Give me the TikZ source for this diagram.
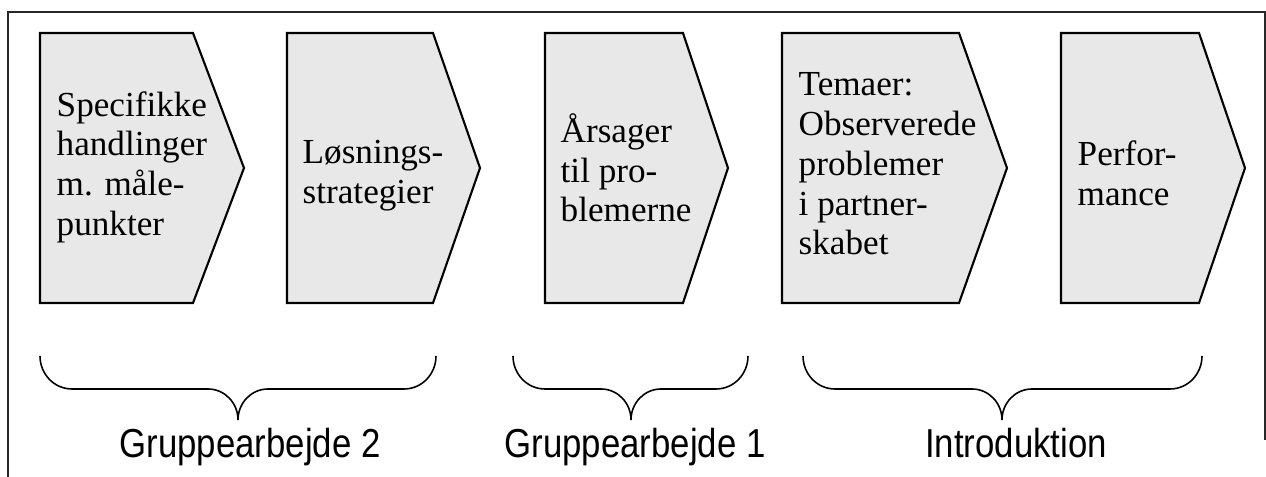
\documentclass[tikz,border=0pt]{standalone}
\usepackage{fontspec}
\setmainfont{Liberation Serif}
\newfontfamily\labelfont[FakeStretch=0.86]{Liberation Sans}
\definecolor{chev_grey}{RGB}{232, 232, 232}
\definecolor{frame_grey}{RGB}{40, 40, 40}
\tikzstyle{chev}=[fill=chev_grey,draw=black,line width=0.6pt,line join=miter]
\tikzstyle{steptext}=[anchor=west,align=left,inner sep=0pt,
  font=\fontsize{10}{11.3}\selectfont]
\tikzstyle{grouplabel}=[anchor=base,inner sep=0pt,
  font=\labelfont\fontsize{11.5}{12}\selectfont]
\tikzstyle{brace}=[draw=black,line width=0.45pt]
\begin{document}
\begin{tikzpicture}[x=0.01cm,y=-0.01cm]
    \useasboundingbox (0,0) rectangle (1266,477);
    \draw [draw=frame_grey,line width=0.6pt] (8,477) -- (8,12) -- (1266,12);
    \draw [draw=frame_grey,line width=0.6pt] (1265,12) -- (1265,440);
    % the five steps
    \draw [style=chev] (40,33) -- (193,33) -- (244,168) -- (193,303) -- (40,303) -- cycle;
    \draw [style=chev] (287,33) -- (433,33) -- (480,168) -- (433,303) -- (287,303) -- cycle;
    \draw [style=chev] (545,33) -- (683,33) -- (728,168) -- (683,303) -- (545,303) -- cycle;
    \draw [style=chev] (782,33) -- (959,33) -- (1007,168) -- (959,303) -- (782,303) -- cycle;
    \draw [style=chev] (1061,33) -- (1199,33) -- (1245,168) -- (1199,303) -- (1061,303) -- cycle;
    \node [style=steptext] (actions) at (56,167) {Specifikke\\handlinger\\m. måle-\\punkter};
    \node [style=steptext] (strategies) at (302,176) {Løsnings-\\strategier};
    \node [style=steptext] (causes) at (560,168) {Årsager\\til pro-\\blemerne};
    \node [style=steptext] (themes) at (798,164) {Temaer:\\Observerede\\problemer\\i partner-\\skabet};
    \node [style=steptext] (perf) at (1077,173) {Perfor-\\mance};
    % braces
    \draw [style=brace] (40,356) to[out=-90,in=180] (72,389) -- (208,389)
      to[out=0,in=90] (238,420) to[out=90,in=180] (268,389) -- (404,389)
      to[out=0,in=-90] (436,356);
    \draw [style=brace] (513,356) to[out=-90,in=180] (545,389) -- (601,389)
      to[out=0,in=90] (631,420) to[out=90,in=180] (661,389) -- (716,389)
      to[out=0,in=-90] (748,356);
    \draw [style=brace] (803,356) to[out=-90,in=180] (835,389) -- (972,389)
      to[out=0,in=90] (1002,420) to[out=90,in=180] (1032,389) -- (1170,389)
      to[out=0,in=-90] (1202,356);
    \node [style=grouplabel] (group2) at (250,458) {Gruppearbejde 2};
    \node [style=grouplabel] (group1) at (635,458) {Gruppearbejde 1};
    \node [style=grouplabel] (intro) at (1016,458) {Introduktion};
\end{tikzpicture}
\end{document}
